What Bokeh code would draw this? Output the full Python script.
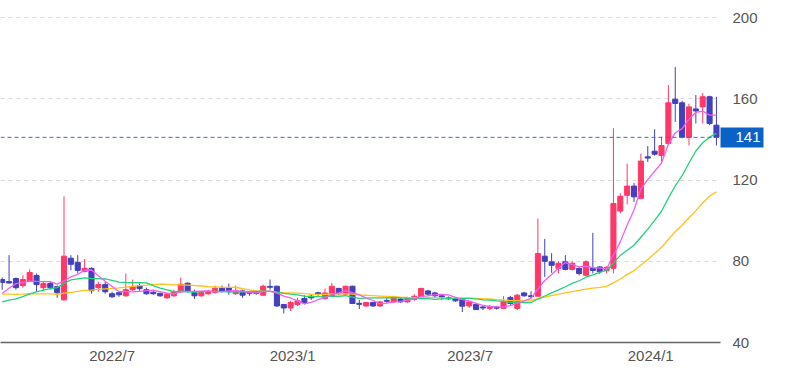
import pandas as pd
import numpy as np
from bokeh.plotting import figure
from bokeh.models import FixedTicker, Span, ColumnDataSource, LinearAxis
from bokeh.embed import file_html
from bokeh.resources import INLINE

# ---------------- data (weekly candles) ----------------
first_week = "2022-03-11"
opens = [71, 70, 71.5, 68, 70, 73, 67, 69, 67.5, 61,
         81.5, 79.5, 75, 76.5, 67, 68.5, 64, 64.5, 63, 66,
         68, 66, 64.7, 64.2, 62, 63, 65, 69.2, 64.7, 63,
         64, 64.7, 66.7, 67, 64, 65.4, 64.8, 64.8, 63.3, 67.6,
         67.7, 58.7, 57, 58.7, 61.7, 62.8, 64.5, 61.7, 62.8, 66.6,
         63.8, 67.7, 59.3, 58, 59.7, 58, 60.7, 60, 61.4, 60,
         61.2, 62.5, 65.4, 64.4, 63, 62, 61.5, 61.2, 58, 58.7,
         57.5, 56.8, 57.3, 56.8, 62.2, 56.8, 64.4, 63, 62.8, 82.5,
         79.7, 76.5, 79.7, 76, 76.4, 73.1, 76.5, 77.2, 75.3, 76.5,
         104.7, 112.5, 117, 111, 131.4, 134.2, 132, 138, 159.8, 158,
         141, 155, 156, 161, 147]
highs = [72, 83, 72, 73, 76, 74, 70, 70, 68, 112,
         83, 83, 81, 77, 70, 70, 65, 65, 74, 71,
         69, 67, 66, 64.5, 64.5, 66, 72, 69.5, 66, 65.5,
         66, 68, 68, 69, 68, 66, 65.5, 65.5, 68.5, 71,
         68, 59, 60.5, 62, 63.3, 63.7, 65, 66.6, 69.3, 67,
         68, 68, 61, 60, 60, 60.5, 62, 63, 62, 62.5,
         63.8, 67, 66, 65, 63.8, 62.7, 62, 61.5, 60.5, 59.5,
         58, 58.5, 58, 62.8, 63, 64, 65, 65.2, 101, 91,
         84, 80, 83, 80, 77, 80.5, 94, 77.5, 77.5, 145.5,
         113.5, 128, 118.6, 133, 136.7, 145, 141.3, 166.7, 175.7, 159,
         157.5, 161.8, 162.8, 161.5, 161]
lows = [66, 69, 66, 67, 70, 65, 65.5, 66, 62, 60.5,
        75.5, 74, 74.5, 64, 65, 64, 62, 62.5, 62.5, 65.5,
        65.5, 63.5, 63.5, 62.5, 61.5, 62.5, 64.5, 64.5, 61.5, 62.5,
        63.5, 64, 64.5, 63.5, 63.5, 62, 63, 63.5, 63, 66,
        57.5, 54.3, 55.5, 58, 58.7, 61, 63, 61, 62.5, 63.5,
        63.5, 59, 56.5, 57.5, 57.5, 57.5, 59.5, 59.5, 59.5, 59.5,
        60.5, 62, 63, 62.3, 61, 61, 60, 55, 57, 56,
        56, 56, 56.2, 56.5, 58.5, 56, 62.5, 61.8, 62.5, 72.3,
        74.3, 74, 75.5, 75.5, 73, 72.5, 74, 73.8, 74, 74,
        103.5, 108, 109.2, 110.5, 128.9, 132, 129, 137, 148.6, 140.5,
        137, 147.8, 147.8, 147, 137]
closes = [69.5, 69.3, 67, 71, 74.5, 68.5, 69, 67, 64.5, 82.5,
          78.5, 75.5, 76.5, 65.5, 68.5, 65, 62.5, 63.5, 66, 67.5,
          66.5, 64, 64, 63, 63.8, 65, 68.7, 65.3, 63, 64.7,
          65.3, 66.7, 65.3, 65, 65.5, 63.3, 64.3, 64.2, 67.7, 67.2,
          58, 57, 59.7, 60.5, 59.7, 62, 63.9, 64.4, 67.7, 64,
          67.7, 59.2, 58.8, 59.7, 58, 60, 60.3, 62.2, 60, 61.7,
          62.8, 66.6, 63.8, 63, 62.4, 61.5, 60.5, 57.9, 60, 56.2,
          57, 57.5, 56.9, 60.3, 59.2, 63.3, 63, 62.6, 83.8, 80,
          78, 79, 76, 79, 74, 79.7, 75.5, 74.8, 77, 108.4,
          112, 117, 111.7, 129.3, 130.8, 132.7, 137, 158, 157.7, 141,
          156, 154, 161, 147.8, 141]
# 25 weekly closes before the first visible week (estimated from where the
# moving-average lines start at the left edge)
prior_closes = [68.5, 70.2, 69.0, 67.8, 70.5, 69.2, 68.4, 69.6, 68.8,
                66.5, 64.0, 63.2, 62.5,
                59.5, 58.0, 56.4, 57.2, 56.0, 57.8, 56.6, 58.5,
                56.5, 55.5, 68.4, 70.8]
ma_windows = [26, 13, 5]
ma_colors = ["#ffc21a", "#22d27a", "#f25ef2"]
y_ticks = [40, 80, 120, 160, 200]
x_tick_dates = ["2022-07-01", "2023-01-01", "2023-07-01", "2024-01-01"]
x_tick_labels = ["2022/7", "2023/1", "2023/7", "2024/1"]
last_price = 141

# ---------------- derived ----------------
dates = pd.date_range(first_week, periods=len(closes), freq="7D")
o = np.array(opens, float); h = np.array(highs, float)
l = np.array(lows, float); c = np.array(closes, float)
up = c >= o
UP, DOWN = "#ff3868", "#4141bd"
colors = np.where(up, UP, DOWN)
src = ColumnDataSource(dict(x=dates, o=o, h=h, l=l, c=c,
                            top=np.maximum(o, c), bottom=np.minimum(o, c),
                            color=colors))

week = pd.Timedelta(days=7)
x_start = dates[0] - 0.2475 * week
x_end = dates[-1] + 0.59 * week
FRAME_W, FRAME_H = 720, 342
y_lo = 40
y_hi = 200 + 17 * 160 / 325   # 200 sits 17px below the top

p = figure(width=779, height=372, x_axis_type="datetime",
           x_range=(x_start, x_end), y_range=(y_lo, y_hi),
           y_axis_location="right", output_backend="svg",
           toolbar_location=None, min_border_left=0, min_border_top=0,
           min_border_right=779 - FRAME_W, min_border_bottom=372 - FRAME_H)
p.outline_line_color = None
p.background_fill_color = "white"
p.border_fill_color = "white"

# candles
p.segment(x0="x", y0="l", x1="x", y1="h", color="color", line_width=1, source=src)
p.vbar(x="x", width=0.74 * week, top="top", bottom="bottom",
       fill_color="color", line_color="color", line_width=1, source=src)

# moving averages
all_close = pd.Series(prior_closes + closes, dtype=float)
for w, col in zip(ma_windows, ma_colors):
    ma = all_close.rolling(w).mean().iloc[len(prior_closes):].to_numpy()
    p.line(dates, ma, line_color=col, line_width=1.3)

# last price line
p.add_layout(Span(location=last_price, dimension="width", line_color="#3a6fc8",
                  line_dash="4 3", line_width=1))

# axes
tick_ms = [int(pd.Timestamp(d).value // 10**6) for d in x_tick_dates]
p.xaxis.ticker = FixedTicker(ticks=tick_ms)
p.xaxis.major_label_overrides = dict(zip(tick_ms, x_tick_labels))
p.yaxis.ticker = FixedTicker(ticks=y_ticks)
for ax in (p.xaxis[0], p.yaxis[0]):
    ax.major_tick_line_color = None
    ax.minor_tick_line_color = None
    ax.major_tick_out = 0
    ax.major_tick_in = 0
    ax.major_label_text_font = "Liberation Sans"
    ax.major_label_text_font_size = "15px"
    ax.major_label_text_color = "#555555"
p.xaxis.axis_line_color = "#666666"
p.xaxis.axis_line_width = 1.5
p.xaxis.major_label_standoff = 4
p.yaxis.axis_line_color = None
p.yaxis.major_label_standoff = 12

# price tag: a second right axis whose single tick is drawn as a thick blue bar
tag = LinearAxis(y_range_name="default", ticker=FixedTicker(ticks=[last_price]),
                 axis_line_color=None, minor_tick_line_color=None,
                 major_tick_line_color="#0b62c6", major_tick_line_width=20,
                 major_tick_line_cap="butt",
                 major_tick_in=40, major_tick_out=3,
                 major_label_standoff=-28,
                 major_label_text_color="white",
                 major_label_text_font="Liberation Sans",
                 major_label_text_font_size="15px")
p.add_layout(tag, "right")

p.xgrid.grid_line_color = None
p.ygrid.grid_line_color = "#d9d9d9"
p.ygrid.grid_line_dash = "4 4"
p.ygrid.grid_line_width = 1

open("out.html", "w").write(file_html(p, INLINE))
